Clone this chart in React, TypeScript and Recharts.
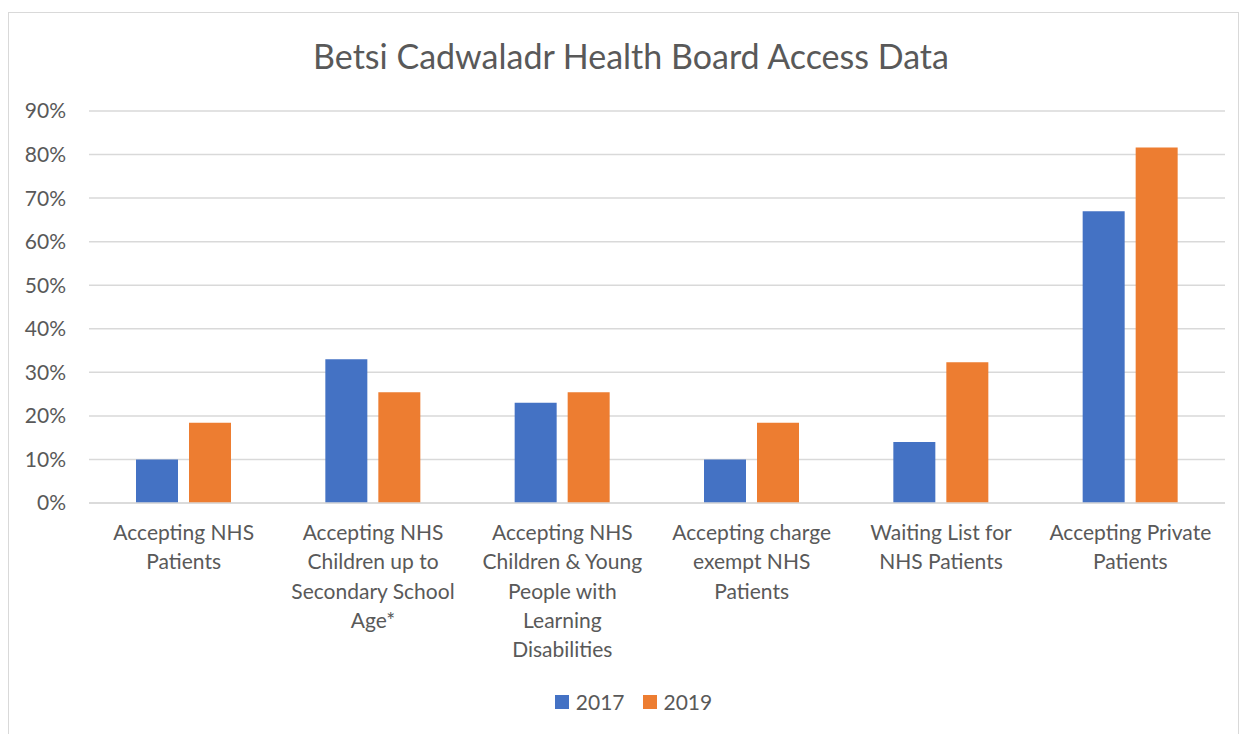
import React from "react";
import { BarChart, Bar, XAxis, YAxis, CartesianGrid } from "recharts";

const title = "Betsi Cadwaladr Health Board Access Data";
const categories = [
  "Accepting NHS Patients",
  "Accepting NHS Children up to Secondary School Age*",
  "Accepting NHS Children & Young People with Learning Disabilities",
  "Accepting charge exempt NHS Patients",
  "Waiting List for NHS Patients",
  "Accepting Private Patients",
];
const categoryLines = [
  ["Accepting NHS", "Patients"],
  ["Accepting NHS", "Children up to", "Secondary School", "Age*"],
  ["Accepting NHS", "Children & Young", "People with", "Learning", "Disabilities"],
  ["Accepting charge", "exempt NHS", "Patients"],
  ["Waiting List for", "NHS Patients"],
  ["Accepting Private", "Patients"],
];
const values2017 = [10, 33, 23, 10, 14, 67];
const values2019 = [18.4, 25.4, 25.4, 18.4, 32.3, 81.6];
const yTicks = [0, 10, 20, 30, 40, 50, 60, 70, 80, 90];
const seriesNames = ["2017", "2019"];
const colors = ["#4472C4", "#ED7D31"];

const data = categories.map((c, i) => ({
  name: c,
  v2017: values2017[i],
  v2019: values2019[i],
}));

const FONT = "Lato, 'Open Sans', sans-serif";
const TEXT = "#595959";

const XTick = (props: any) => {
  const { x, y, index } = props;
  const lines = categoryLines[index] || [];
  return (
    <g>
      {lines.map((l: string, i: number) => (
        <text
          key={i}
          x={x}
          y={y + 29 + i * 29.3}
          textAnchor="middle"
          fill={TEXT}
          fontSize={21}
          fontFamily={FONT}
        >
          {l}
        </text>
      ))}
    </g>
  );
};

export default function App() {
  return (
    <div style={{ position: "absolute", left: 0, top: 0, width: 1243, height: 734, background: "#fff", overflow: "hidden" }}>
      <div
        style={{
          position: "absolute",
          left: 8,
          top: 12,
          width: 1231,
          height: 740,
          border: "1.5px solid #d9d9d9",
          boxSizing: "border-box",
        }}
      />
      <div style={{ position: "absolute", left: 0, top: 0 }}>
        <BarChart
          width={1243}
          height={734}
          data={data}
          margin={{ top: 111, right: 18, left: 0, bottom: 71 }}
          barGap={11}
          barSize={42}
        >
          <text
            x={631}
            y={69}
            textAnchor="middle"
            fill={TEXT}
            fontSize={34}
            fontFamily={FONT}
          >
            {title}
          </text>
          <CartesianGrid vertical={false} stroke="#d9d9d9" strokeWidth={1.5} />
          <XAxis
            dataKey="name"
            height={160}
            tickLine={false}
            axisLine={{ stroke: "#d9d9d9", strokeWidth: 1.5 }}
            tick={<XTick />}
            interval={0}
          />
          <YAxis
            width={89}
            domain={[0, 90]}
            ticks={yTicks}
            tickFormatter={(v: number) => `${v}%`}
            axisLine={false}
            tickLine={false}
            tickMargin={17}
            tick={{ fill: TEXT, fontSize: 21, fontFamily: FONT }}
          />
          <Bar dataKey="v2017" name={seriesNames[0]} fill={colors[0]} isAnimationActive={false} />
          <Bar dataKey="v2019" name={seriesNames[1]} fill={colors[1]} isAnimationActive={false} />
        </BarChart>
      </div>
      <div
        style={{
          position: "absolute",
          left: 0,
          top: 689,
          width: 1243,
          display: "flex",
          justifyContent: "center",
          alignItems: "center",
          fontFamily: FONT,
          fontSize: 21,
          color: TEXT,
          paddingLeft: 24,
          boxSizing: "border-box",
        }}
      >
        {seriesNames.map((s, i) => (
          <div key={s} style={{ display: "flex", alignItems: "center", marginRight: i === 0 ? 18 : 0 }}>
            <div style={{ width: 14, height: 14, background: colors[i], marginRight: 7 }} />
            <span>{s}</span>
          </div>
        ))}
      </div>
    </div>
  );
}
